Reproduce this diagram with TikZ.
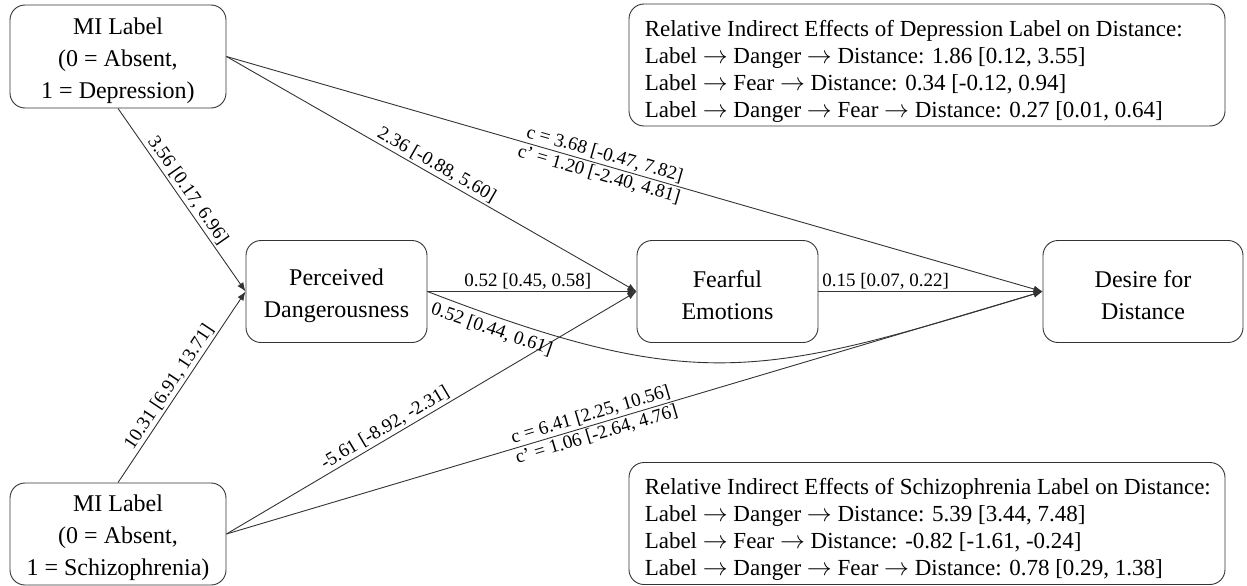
\documentclass[tikz,border=0pt]{standalone}
\usepackage{fontspec}
\setmainfont{Liberation Serif}
\usetikzlibrary{arrows.meta}
\newcommand{\myarr}{$\rightarrow$}
\newcommand{\bstrut}{\rule{0pt}{25pt}}
\newcommand{\istrut}{\rule{0pt}{28pt}}
\begin{document}
\begin{tikzpicture}[x=1pt,y=-1pt,
  box/.style={draw=black!80, line width=0.9pt, rounded corners=15pt, align=center,
    inner sep=0pt, font=\fontsize{24}{32}\selectfont},
  infobox/.style={draw=black!80, line width=0.9pt, rounded corners=15pt,
    inner sep=0pt, minimum width=596pt, minimum height=122pt},
  infotext/.style={align=left, inner sep=0pt, anchor=west,
    font=\fontsize{23}{27}\selectfont},
  lab/.style={font=\fontsize{19}{22}\selectfont, sloped, inner sep=2pt},
  arr/.style={draw=black!80, line width=0.9pt, -{Latex[length=9pt,width=7pt]}}]
\useasboundingbox (0,0) rectangle (1247,586);

\node[box, minimum width=216pt, minimum height=103pt] (dep) at (118,56.5)
  {\bstrut MI Label\\(0 = Absent,\\1 = Depression)};
\node[box, minimum width=216pt, minimum height=102pt] (sch) at (118,534)
  {\bstrut MI Label\\(0 = Absent,\\1 = Schizophrenia)};
\node[box, minimum width=181pt, minimum height=102pt] (dan) at (336.5,291.5)
  {\bstrut Perceived\\Dangerousness};
\node[box, minimum width=181pt, minimum height=102pt] (fear) at (727.5,291.5)
  {\bstrut Fearful\\Emotions};
\node[box, minimum width=200pt, minimum height=102pt] (dist) at (1143,291.5)
  {\bstrut Desire for\\Distance};

\node[infobox] (topinfo) at (927,65) {};
\node[infotext] (toptext) at ([xshift=16pt]topinfo.west)
  {\istrut Relative Indirect Effects of Depression Label on Distance:\\
   Label \myarr{} Danger \myarr{} Distance: 1.86 [0.12, 3.55]\\
   Label \myarr{} Fear \myarr{} Distance: 0.34 [-0.12, 0.94]\\
   Label \myarr{} Danger \myarr{} Fear \myarr{} Distance: 0.27 [0.01, 0.64]};
\node[infobox] (botinfo) at (927,523.5) {};
\node[infotext] (bottext) at ([xshift=16pt]botinfo.west)
  {\istrut Relative Indirect Effects of Schizophrenia Label on Distance:\\
   Label \myarr{} Danger \myarr{} Distance: 5.39 [3.44, 7.48]\\
   Label \myarr{} Fear \myarr{} Distance: -0.82 [-1.61, -0.24]\\
   Label \myarr{} Danger \myarr{} Fear \myarr{} Distance: 0.78 [0.29, 1.38]};

\draw[arr] (dep.south) -- node[lab, above, pos=0.48] {3.56 [0.17, 6.96]} (dan.west);
\draw[arr] (sch.north) -- node[lab, above, pos=0.47] {10.31 [6.91, 13.71]} (dan.west);
\draw[arr] (dep.east) -- node[lab, above, pos=0.5] {2.36 [-0.88, 5.60]} (fear.west);
\draw[arr] (dep.east) -- node[lab, above, pos=0.46] {c = 3.68 [-0.47, 7.82]}
  node[lab, below, pos=0.46] {c’ = 1.20 [-2.40, 4.81]} (dist.west);
\draw[arr] (sch.east) -- node[lab, above, pos=0.4] {-5.61 [-8.92, -2.31]} (fear.west);
\draw[arr] (sch.east) -- node[lab, above, pos=0.45] {c = 6.41 [2.25, 10.56]}
  node[lab, below, pos=0.45] {c’ = 1.06 [-2.64, 4.76]} (dist.west);
\draw[arr] (dan.east) -- node[lab, above, pos=0.48] {0.52 [0.45, 0.58]} (fear.west);
\draw[arr] (fear.east) -- node[lab, above, pos=0.3] {0.15 [0.07, 0.22]} (dist.west);
\draw[arr] (dan.east) .. controls (699,396) and (763,376) ..
  node[lab, below, pos=0.09, yshift=-3pt] {0.52 [0.44, 0.61]} (dist.west);
\end{tikzpicture}
\end{document}
